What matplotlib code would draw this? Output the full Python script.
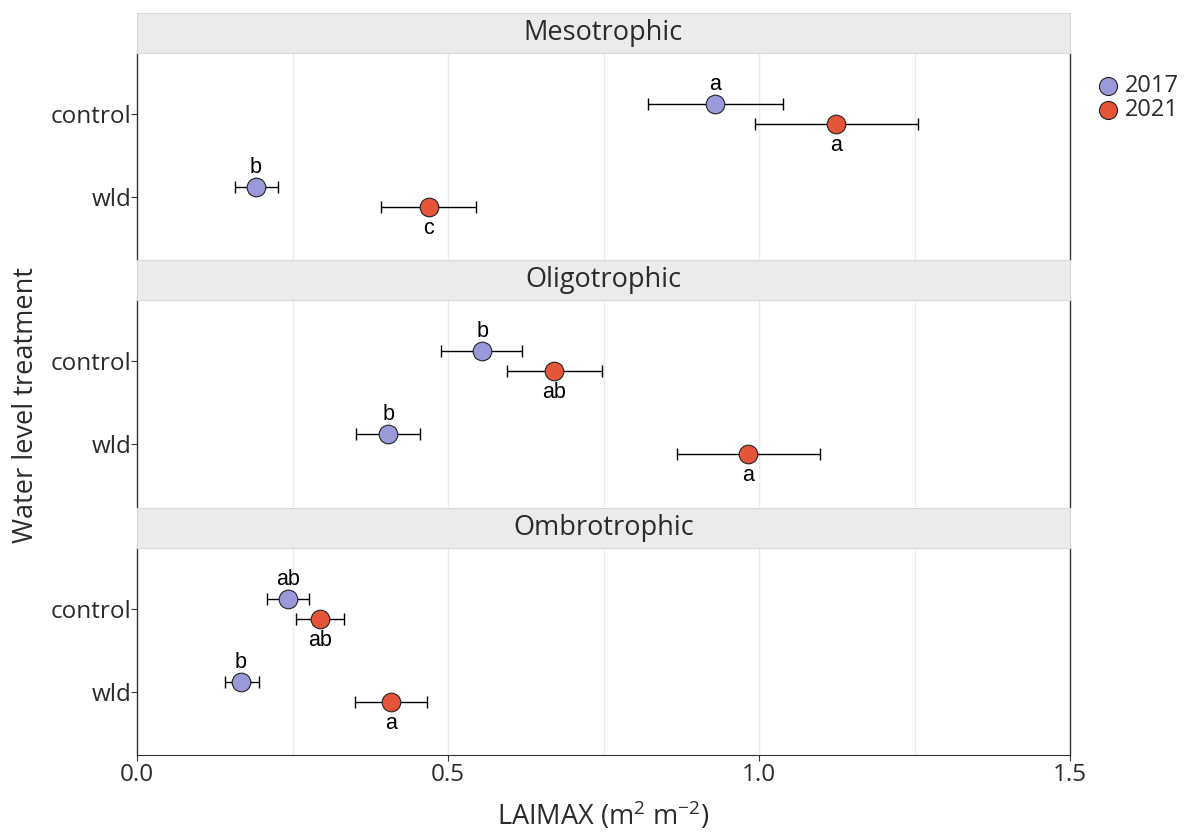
import matplotlib
matplotlib.use('Agg')
import matplotlib.pyplot as plt
import numpy as np

# Data
sites = ['Mesotrophic', 'Oligotrophic', 'Ombrotrophic']
treatments = ['control', 'wld']
years = ['2017', '2021']
colors = {'2017': '#9A9ADB', '2021': '#E5553A'}

# mean, lower, upper per site, treatment (control, wld)
mean_2017 = {'Mesotrophic': [0.929, 0.191], 'Oligotrophic': [0.555, 0.404], 'Ombrotrophic': [0.243, 0.167]}
low_2017 = {'Mesotrophic': [0.822, 0.158], 'Oligotrophic': [0.489, 0.352], 'Ombrotrophic': [0.209, 0.141]}
up_2017 = {'Mesotrophic': [1.039, 0.227], 'Oligotrophic': [0.619, 0.455], 'Ombrotrophic': [0.276, 0.196]}
lett_2017 = {'Mesotrophic': ['a', 'b'], 'Oligotrophic': ['b', 'b'], 'Ombrotrophic': ['ab', 'b']}

mean_2021 = {'Mesotrophic': [1.124, 0.469], 'Oligotrophic': [0.670, 0.982], 'Ombrotrophic': [0.294, 0.408]}
low_2021 = {'Mesotrophic': [0.994, 0.392], 'Oligotrophic': [0.595, 0.868], 'Ombrotrophic': [0.256, 0.350]}
up_2021 = {'Mesotrophic': [1.256, 0.545], 'Oligotrophic': [0.748, 1.098], 'Ombrotrophic': [0.333, 0.466]}
lett_2021 = {'Mesotrophic': ['a', 'c'], 'Oligotrophic': ['ab', 'a'], 'Ombrotrophic': ['ab', 'a']}

series = {
    '2017': (mean_2017, low_2017, up_2017, lett_2017, 0.12),
    '2021': (mean_2021, low_2021, up_2021, lett_2021, -0.12),
}

plt.rcParams['font.family'] = ['Open Sans', 'DejaVu Sans']
plt.rcParams['mathtext.default'] = 'regular'
txt_col = '#2B2B2B'

W, H = 1189, 833
fig = plt.figure(figsize=(W / 100, H / 100), dpi=100)

px_left, px_right = 137, 1070
panel_px = [(53, 260), (300, 507), (548, 755)]
strip_h = 40

ypos = {'control': 1, 'wld': 0}

for i, site in enumerate(sites):
    top, bot = panel_px[i]
    ax = fig.add_axes([px_left / W, 1 - bot / H, (px_right - px_left) / W, (bot - top) / H])
    sax = fig.add_axes([px_left / W, 1 - top / H, (px_right - px_left) / W, strip_h / H])
    sax.set_facecolor('#EBEBEB')
    sax.set_xticks([])
    sax.set_yticks([])
    for s in sax.spines.values():
        s.set_color('#DADADA')
        s.set_linewidth(0.8)
    sax.text(0.5, 0.5, site, ha='center', va='center', fontsize=19.5, color=txt_col,
             transform=sax.transAxes)

    for g in [0.25, 0.5, 0.75, 1.0, 1.25]:
        ax.axvline(g, color='#EBEBEB', lw=1.0, zorder=0)

    for yr in years:
        mean, low, up, lett, off = series[yr]
        yy = np.array([ypos[t] for t in treatments]) + off
        m = np.array(mean[site])
        xerr = np.vstack([m - np.array(low[site]), np.array(up[site]) - m])
        ax.errorbar(m, yy, xerr=xerr, fmt='none', ecolor='black', elinewidth=1.0,
                    capsize=4, capthick=1.0, zorder=2)
        ax.scatter(m, yy, s=180, color=colors[yr], edgecolor='#222222', linewidth=0.8,
                   zorder=3)
        for x, y, l in zip(m, yy, lett[site]):
            if off > 0:
                ax.text(x, y + 0.11, l, ha='center', va='bottom', fontsize=15.5,
                        family='Liberation Sans', color='black')
            else:
                ax.text(x, y - 0.13, l, ha='center', va='top', fontsize=15.5,
                        family='Liberation Sans', color='black')

    ax.set_xlim(0, 1.5)
    ax.set_ylim(-0.76, 1.74)
    ax.set_yticks([ypos[t] for t in treatments])
    ax.set_yticklabels(treatments, fontsize=17.5, color=txt_col)
    ax.tick_params(axis='y', length=4, color='#333333', pad=0)
    ax.spines['top'].set_visible(False)
    ax.spines['left'].set_color('#333333')
    ax.spines['right'].set_color('#333333')
    ax.spines['left'].set_linewidth(1.0)
    ax.spines['right'].set_linewidth(1.0)
    if i < 2:
        ax.spines['bottom'].set_visible(False)
        ax.set_xticks([])
    else:
        ax.spines['bottom'].set_color('#333333')
        ax.set_xticks([0.0, 0.5, 1.0, 1.5])
        ax.set_xticklabels(['0.0', '0.5', '1.0', '1.5'], fontsize=17.5, color=txt_col)
        ax.tick_params(axis='x', length=4, color='#333333', pad=2)
        ax.set_xlabel(r'LAIMAX (m$^{2}$ m$^{-2}$)', fontsize=19.5, color=txt_col, labelpad=9)

fig.text(0.022, 1 - 405 / H, 'Water level treatment', rotation=90, ha='center', va='center',
         fontsize=19.5, color=txt_col)

# legend
for k, yr in enumerate(years):
    ly = 1 - (86 + 24 * k) / H
    fig.lines.append(plt.Line2D([1108 / W], [ly], marker='o', markersize=13,
                                markerfacecolor=colors[yr], markeredgecolor='#222222',
                                markeredgewidth=0.8, transform=fig.transFigure))
    fig.text(1125 / W, ly, yr, ha='left', va='center', fontsize=17, color=txt_col)

fig.savefig('out.png', dpi=100, facecolor='white')
